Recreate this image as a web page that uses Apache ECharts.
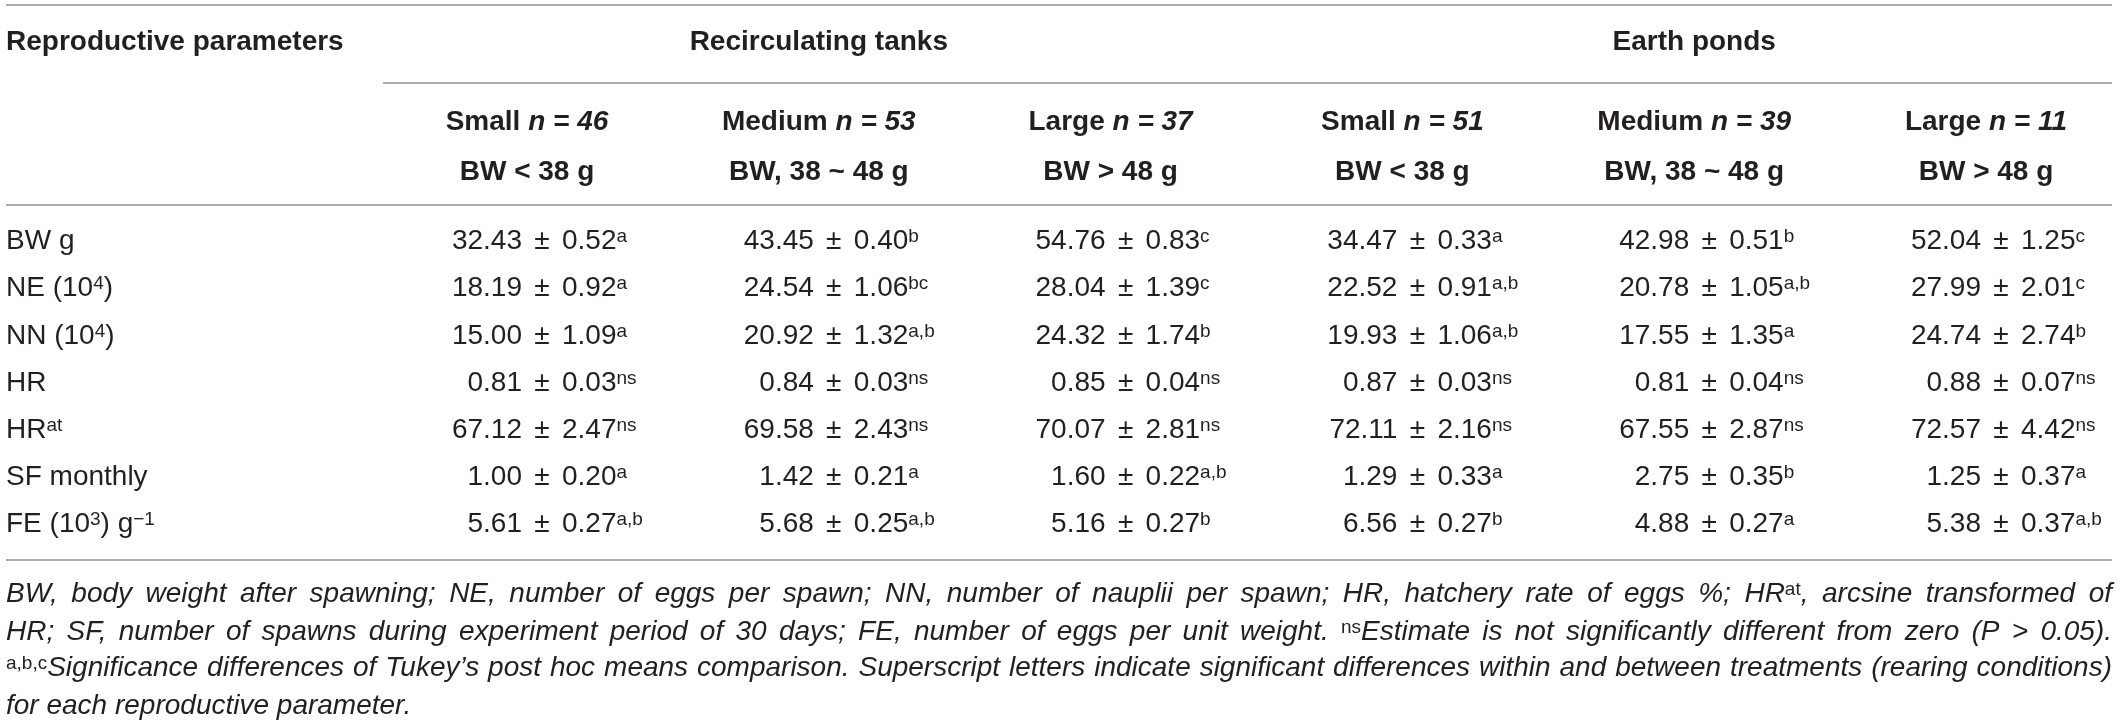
<!DOCTYPE html>
<html>
<head>
<meta charset="utf-8">
<script src="https://cdn.jsdelivr.net/npm/echarts@6/dist/echarts.min.js"></script>
<style>
  html, body { margin: 0; padding: 0; background: #fff; }
  #chart { width: 2120px; height: 726px; }
</style>
</head>
<body>
<div id="chart"></div>
<script>
// table content
const groups = ['Recirculating tanks', 'Earth ponds'];
const sizeClasses = ['Small', 'Medium', 'Large', 'Small', 'Medium', 'Large'];
const sampleSizes = [46, 53, 37, 51, 39, 11];
const weightClasses = ['BW < 38 g', 'BW, 38 ~ 48 g', 'BW > 48 g', 'BW < 38 g', 'BW, 38 ~ 48 g', 'BW > 48 g'];
const parameters = ['BW g', 'NE (10{s|4})', 'NN (10{s|4})', 'HR', 'HR{s|at}', 'SF monthly', 'FE (10{s|3}) g{s|\u22121}'];

const bwMean = [32.43, 43.45, 54.76, 34.47, 42.98, 52.04];
const bwSd = [0.52, 0.40, 0.83, 0.33, 0.51, 1.25];
const bwSig = ['a', 'b', 'c', 'a', 'b', 'c'];

const neMean = [18.19, 24.54, 28.04, 22.52, 20.78, 27.99];
const neSd = [0.92, 1.06, 1.39, 0.91, 1.05, 2.01];
const neSig = ['a', 'bc', 'c', 'a,b', 'a,b', 'c'];

const nnMean = [15.00, 20.92, 24.32, 19.93, 17.55, 24.74];
const nnSd = [1.09, 1.32, 1.74, 1.06, 1.35, 2.74];
const nnSig = ['a', 'a,b', 'b', 'a,b', 'a', 'b'];

const hrMean = [0.81, 0.84, 0.85, 0.87, 0.81, 0.88];
const hrSd = [0.03, 0.03, 0.04, 0.03, 0.04, 0.07];
const hrSig = ['ns', 'ns', 'ns', 'ns', 'ns', 'ns'];

const hratMean = [67.12, 69.58, 70.07, 72.11, 67.55, 72.57];
const hratSd = [2.47, 2.43, 2.81, 2.16, 2.87, 4.42];
const hratSig = ['ns', 'ns', 'ns', 'ns', 'ns', 'ns'];

const sfMean = [1.00, 1.42, 1.60, 1.29, 2.75, 1.25];
const sfSd = [0.20, 0.21, 0.22, 0.33, 0.35, 0.37];
const sfSig = ['a', 'a', 'a,b', 'a', 'b', 'a'];

const feMean = [5.61, 5.68, 5.16, 6.56, 4.88, 5.38];
const feSd = [0.27, 0.25, 0.27, 0.27, 0.27, 0.37];
const feSig = ['a,b', 'a,b', 'b', 'b', 'a', 'a,b'];

const footnote = [
  'BW, body weight after spawning; NE, number of eggs per spawn; NN, number of nauplii per spawn; HR, hatchery rate of eggs %; HR{s|at}, arcsine transformed of',
  'HR; SF, number of spawns during experiment period of 30 days; FE, number of eggs per unit weight. {s|ns}Estimate is not significantly different from zero (P > 0.05).',
  '{s|a,b,c}Significance differences of Tukey\u2019s post hoc means comparison. Superscript letters indicate significant differences within and between treatments (rearing conditions)',
  'for each reproductive parameter.'
];

const FONT = '"Liberation Sans", Arial, sans-serif';
const INK = '#231f20';
const RULE = '#8e8e8e';
const FS = 28;
const SUP = 19;

const rows = [
  [bwMean, bwSd, bwSig], [neMean, neSd, neSig], [nnMean, nnSd, nnSig],
  [hrMean, hrSd, hrSig], [hratMean, hratSd, hratSig], [sfMean, sfSd, sfSig], [feMean, feSd, feSig]
];
const cells = [];
rows.forEach((r, ri) => {
  r[0].forEach((m, ci) => cells.push({ col: ci, row: ri, mean: m, sd: r[1][ci], sig: r[2][ci] }));
});

const supStyle = { fontSize: SUP, fontFamily: FONT, fill: INK, fontStyle: 'normal', verticalAlign: 'top' };
const cellText = (text, x, y, align) => ({ type: 'text', x: x, y: y,
  style: { text: text, rich: { s: supStyle }, align: align, verticalAlign: 'middle', fontSize: FS, fontFamily: FONT, fill: INK } });

const chart = echarts.init(document.getElementById('chart'));
chart.setOption({
  animation: false,
  backgroundColor: '#fff',
  grid: { left: 541, right: 120, top: 218, height: 330 },
  xAxis: {
    type: 'value', position: 'top', min: 0, max: 5, interval: 1,
    axisLine: { show: false }, axisTick: { show: false }, splitLine: { show: false },
    axisLabel: {
      margin: 21,
      padding: [0, 28, 0, 0],
      formatter: (v) => '{b|' + sizeClasses[v] + ' }{bi|n = ' + sampleSizes[v] + '}\n{b|' + weightClasses[v] + '}',
      rich: {
        b: { fontSize: FS, fontWeight: 'bold', fontFamily: FONT, color: INK, lineHeight: 50 },
        bi: { fontSize: FS, fontWeight: 'bold', fontStyle: 'italic', fontFamily: FONT, color: INK, lineHeight: 50 }
      }
    }
  },
  yAxis: {
    type: 'category', inverse: true, data: parameters,
    axisLine: { show: false }, axisTick: { show: false }, splitLine: { show: false },
    axisLabel: {
      interval: 0, align: 'left', margin: 535,
      fontSize: FS, fontFamily: FONT, color: INK,
      rich: { s: { fontSize: SUP, fontFamily: FONT, color: INK, verticalAlign: 'top' } }
    }
  },
  series: [{
    type: 'custom',
    silent: true,
    data: cells.map(c => [c.col, c.row]),
    renderItem: (params, api) => {
      const c = cells[params.dataIndex];
      const p = api.coord([c.col, c.row]);
      return {
        type: 'group',
        children: [
          cellText(c.mean.toFixed(2), p[0] - 19, p[1], 'right'),
          cellText('\u00b1', p[0] + 1, p[1], 'center'),
          cellText(c.sd.toFixed(2) + '{s|' + c.sig + '}', p[0] + 21, p[1], 'left')
        ]
      };
    }
  }]
});

// headers, rules and footnote
const px = (v) => chart.convertToPixel({ xAxisIndex: 0 }, v);
const groupX = [(px(0) + px(2)) / 2 - 14, (px(3) + px(5)) / 2 - 14];

const ctx = document.createElement('canvas').getContext('2d');
function wordWidth(w) {
  let total = 0;
  w.split(/(\{s\|[^}]*\})/).forEach(part => {
    if (!part) return;
    const m = part.match(/^\{s\|([^}]*)\}$/);
    ctx.font = m ? SUP + 'px ' + FONT : 'italic ' + FS + 'px ' + FONT;
    total += ctx.measureText(m ? m[1] : part).width;
  });
  return total;
}
ctx.font = 'italic ' + FS + 'px ' + FONT;
const spaceW = ctx.measureText(' ').width;

const LEFT = 6, RIGHT = 2112;
const noteY = [594, 632, 668, 706];
const noteEls = [];
footnote.forEach((line, li) => {
  const words = line.split(' ');
  const widths = words.map(wordWidth);
  const sum = widths.reduce((a, b) => a + b, 0);
  const last = li === footnote.length - 1;
  // justified lines, last line left aligned
  const gap = last ? spaceW : (RIGHT - LEFT - sum) / (words.length - 1);
  let x = LEFT;
  words.forEach((w, wi) => {
    noteEls.push({
      type: 'text', x: x, y: noteY[li], silent: true,
      style: { text: w, rich: { s: supStyle }, fontSize: FS, fontStyle: 'italic', fontFamily: FONT,
               fill: INK, align: 'left', verticalAlign: 'middle' }
    });
    x += widths[wi] + gap;
  });
});

const rule = (x1, x2, y) => ({ type: 'line', silent: true, shape: { x1: x1, y1: y, x2: x2, y2: y },
  style: { stroke: RULE, lineWidth: 1.5 } });
const bold = (text, x, y, align) => ({ type: 'text', x: x, y: y, silent: true,
  style: { text: text, fontSize: FS, fontWeight: 'bold', fontFamily: FONT, fill: INK, align: align, verticalAlign: 'middle' } });

chart.setOption({
  graphic: [
    rule(LEFT, RIGHT, 5),
    rule(383, RIGHT, 83),
    rule(LEFT, RIGHT, 205),
    rule(LEFT, RIGHT, 560),
    bold('Reproductive parameters', LEFT, 42, 'left'),
    bold(groups[0], groupX[0], 42, 'center'),
    bold(groups[1], groupX[1], 42, 'center')
  ].concat(noteEls)
});
</script>
</body>
</html>
